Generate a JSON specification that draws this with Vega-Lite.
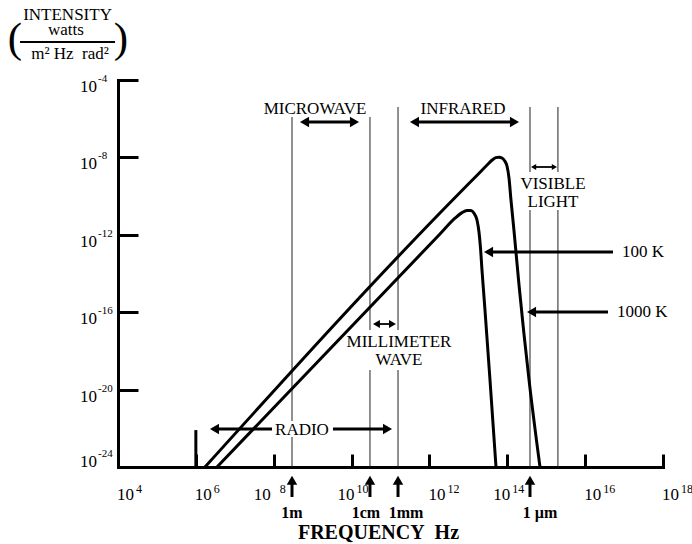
{
  "$schema": "https://vega.github.io/schema/vega-lite/v6.json",
  "width": 545,
  "height": 387,
  "autosize": {"type": "none"},
  "padding": {"left": 118, "top": 80, "right": 29, "bottom": 77},
  "background": "white",
  "config": {
    "view": {"stroke": null},
    "font": "Liberation Serif",
    "text": {"font": "Liberation Serif", "color": "black"},
    "axis": {
      "grid": false,
      "labels": false,
      "domainColor": "black",
      "domainWidth": 3,
      "domainCap": "square",
      "tickColor": "black",
      "tickWidth": 3,
      "tickCap": "butt"
    }
  },
  "datasets": {
    "curves": [
      {"T": "1000 K", "f": 1.718e6, "i": 1e-24},
      {"T": "1000 K", "f": 7.6e12, "i": 2.4e-10},
      {"T": "1000 K", "f": 1.68e13, "i": 1.2e-9},
      {"T": "1000 K", "f": 2.9e13, "i": 3.7e-9},
      {"T": "1000 K", "f": 4.1e13, "i": 7.3e-9},
      {"T": "1000 K", "f": 5.1e13, "i": 9.7e-9},
      {"T": "1000 K", "f": 6.1e13, "i": 1.03e-8},
      {"T": "1000 K", "f": 7.3e13, "i": 9.3e-9},
      {"T": "1000 K", "f": 8.6e13, "i": 6.6e-9},
      {"T": "1000 K", "f": 9.82e13, "i": 3.6e-9},
      {"T": "1000 K", "f": 1.107e14, "i": 8.61e-10},
      {"T": "1000 K", "f": 1.24e14, "i": 6.8e-11},
      {"T": "1000 K", "f": 1.48e14, "i": 1.8e-12},
      {"T": "1000 K", "f": 2.0e14, "i": 2.6e-15},
      {"T": "1000 K", "f": 3.6e14, "i": 3.5e-20},
      {"T": "1000 K", "f": 6.92e14, "i": 1e-24},
      {"T": "100 K", "f": 3.49e6, "i": 1e-24},
      {"T": "100 K", "f": 1.866e12, "i": 1.1e-12},
      {"T": "100 K", "f": 4.54e12, "i": 7.2e-12},
      {"T": "100 K", "f": 6.86e12, "i": 1.4e-11},
      {"T": "100 K", "f": 9.23e12, "i": 1.8e-11},
      {"T": "100 K", "f": 1.169e13, "i": 1.78e-11},
      {"T": "100 K", "f": 1.396e13, "i": 1.3e-11},
      {"T": "100 K", "f": 1.667e13, "i": 5.82e-12},
      {"T": "100 K", "f": 1.875e13, "i": 1.396e-12},
      {"T": "100 K", "f": 2.051e13, "i": 2.08e-13},
      {"T": "100 K", "f": 2.239e13, "i": 1.517e-14},
      {"T": "100 K", "f": 2.673e13, "i": 1.3e-16},
      {"T": "100 K", "f": 3.597e13, "i": 3.13e-20},
      {"T": "100 K", "f": 5.13e13, "i": 1e-24}
    ],
    "vlines": [
      {"f": 2.95e8, "i": 1.225e-6, "i2": 2.38e-22},
      {"f": 2.95e8, "i": 3.55e-23, "i2": 1e-24},
      {"f": 2.97e10, "i": 1.225e-6, "i2": 1.202e-17},
      {"f": 2.97e10, "i": 1.03e-19, "i2": 1e-24},
      {"f": 1.56e11, "i": 4.03e-6, "i2": 1.202e-17},
      {"f": 1.56e11, "i": 1.03e-19, "i2": 1e-24},
      {"f": 3.83e14, "i": 4.03e-6, "i2": 1.758e-9},
      {"f": 3.83e14, "i": 1.914e-11, "i2": 1e-24},
      {"f": 2.0e15, "i": 4.03e-6, "i2": 1.758e-9},
      {"f": 2.0e15, "i": 1.914e-11, "i2": 1e-24}
    ],
    "extraTick": [{"f": 1e6, "i": 1e-24, "i2": 8.1e-23}],
    "hshafts": [
      {"f": 6.18e8, "f2": 1.189e10, "i": 6.74e-7},
      {"f": 4.13e11, "f2": 1.531e14, "i": 6.74e-7},
      {"f": 3.01e6, "f2": 9.04e7, "i": 9.2e-23},
      {"f": 3.33e9, "f2": 8.38e10, "i": 9.2e-23},
      {"f": 3.3e13, "f2": 5.19e16, "i": 1.29e-13},
      {"f": 4.2e14, "f2": 3.86e16, "i": 1.023e-16}
    ],
    "hshaftsThin": [
      {"f": 4.74e14, "f2": 1.622e15, "i": 3.19e-9},
      {"f": 4.36e10, "f2": 1.125e11, "i": 2.45e-17}
    ],
    "vshafts": [
      {"f": 2.95e8, "i": 2.82e-26, "i2": 2.06e-25},
      {"f": 2.97e10, "i": 2.82e-26, "i2": 2.06e-25},
      {"f": 1.56e11, "i": 2.82e-26, "i2": 2.06e-25},
      {"f": 3.83e14, "i": 2.82e-26, "i2": 2.06e-25}
    ],
    "headsBig": [
      {"f": 6.18e8, "i": 6.74e-7, "dir": "left"},
      {"f": 1.189e10, "i": 6.74e-7, "dir": "right"},
      {"f": 4.13e11, "i": 6.74e-7, "dir": "left"},
      {"f": 1.531e14, "i": 6.74e-7, "dir": "right"},
      {"f": 3.01e6, "i": 9.2e-23, "dir": "left"},
      {"f": 8.38e10, "i": 9.2e-23, "dir": "right"},
      {"f": 3.3e13, "i": 1.29e-13, "dir": "left"},
      {"f": 4.2e14, "i": 1.023e-16, "dir": "left"},
      {"f": 2.95e8, "i": 2.06e-25, "dir": "up"},
      {"f": 2.97e10, "i": 2.06e-25, "dir": "up"},
      {"f": 1.56e11, "i": 2.06e-25, "dir": "up"},
      {"f": 3.83e14, "i": 2.06e-25, "dir": "up"}
    ],
    "headsVisible": [
      {"f": 4.74e14, "i": 3.19e-9, "dir": "left"},
      {"f": 1.622e15, "i": 3.19e-9, "dir": "right"}
    ],
    "headsMM": [
      {"f": 4.36e10, "i": 2.45e-17, "dir": "left"},
      {"f": 1.125e11, "i": 2.45e-17, "dir": "right"}
    ],
    "annoCenter": [
      {"f": 1.148e9, "i": 1.75e-6, "label": "MICROWAVE"},
      {"f": 7.28e12, "i": 1.75e-6, "label": "INFRARED"},
      {"f": 1.493e15, "i": 2.33e-10, "label": "VISIBLE"},
      {"f": 1.493e15, "i": 2.74e-11, "label": "LIGHT"},
      {"f": 1.652e11, "i": 1.59e-18, "label": "MILLIMETER"},
      {"f": 1.652e11, "i": 1.866e-19, "label": "WAVE"},
      {"f": 5.32e8, "i": 4.51e-23, "label": "RADIO"}
    ],
    "annoLeft": [
      {"f": 8.83e16, "i": 7.13e-14, "label": "100 K"},
      {"f": 6.58e16, "i": 5.65e-17, "label": "1000 K"}
    ],
    "wavelengths": [
      {"f": 2.95e8, "i": 2.31e-27, "label": "1m"},
      {"f": 2.34e10, "i": 2.31e-27, "label": "1cm"},
      {"f": 2.5e11, "i": 2.31e-27, "label": "1mm"},
      {"f": 6.92e14, "i": 2.31e-27, "label": "1\u00a0µm"}
    ],
    "titleText": [
      {"f": 505, "i": 0.126, "label": "INTENSITY"},
      {"f": 461, "i": 0.0212, "label": "watts"},
      {"f": 585, "i": 0.001216, "label": "m² Hz\u00a0\u00a0rad²"}
    ],
    "parens": [
      {"f": 22.6, "i": 0.00264, "label": "("},
      {"f": 11900, "i": 0.00264, "label": ")"}
    ],
    "fractionBar": [{"f": 30.4, "f2": 8380, "i": 0.0092}],
    "ylabels": [
      {"i": 1e-4, "e": "-4"},
      {"i": 1e-8, "e": "-8"},
      {"i": 1e-12, "e": "-12"},
      {"i": 1e-16, "e": "-16"},
      {"i": 1e-20, "e": "-20"}
    ],
    "ylabelsBottom": [
      {"i": 1e-24, "e": "-24"}
    ],
    "xlabels": [
      {"f": 1e4, "e": "4"},
      {"f": 1e6, "e": "6"},
      {"f": 1e12, "e": "12"},
      {"f": 1e16, "e": "16"},
      {"f": 1e18, "e": "18"}
    ],
    "xlabelsShifted": [
      {"f": 1e10, "e": "10"},
      {"f": 1e14, "e": "14"}
    ],
    "xlabelsShiftedMore": [
      {"f": 1e8, "e": "8"}
    ]
  },
  "layer": [
    {
      "data": {"name": "vlines"},
      "mark": {"type": "rule", "color": "#222222", "strokeWidth": 1},
      "encoding": {
        "x": {
          "field": "f", "type": "quantitative",
          "scale": {"type": "log", "domain": [1e4, 1e18], "nice": false},
          "axis": {
            "values": [1e6, 1e8, 1e10, 1e12, 1e14, 1e16, 1e18],
            "tickSize": -13,
            "title": "FREQUENCY\u00a0\u00a0Hz",
            "titleFont": "Liberation Serif",
            "titleFontSize": 20,
            "titleFontWeight": "bold",
            "titleColor": "black",
            "titleX": 260,
            "titleY": 71,
            "titleAlign": "center",
            "titleBaseline": "alphabetic"
          }
        },
        "y": {
          "field": "i", "type": "quantitative",
          "scale": {"type": "log", "domain": [1e-24, 1e-4], "nice": false},
          "axis": {"values": [1e-4, 1e-8, 1e-12, 1e-16, 1e-20], "tickSize": -20, "title": null}
        },
        "y2": {"field": "i2"}
      }
    },
    {
      "data": {"name": "extraTick"},
      "mark": {"type": "rule", "color": "black", "strokeWidth": 3},
      "encoding": {
        "x": {"field": "f", "type": "quantitative"},
        "y": {"field": "i", "type": "quantitative"},
        "y2": {"field": "i2"}
      }
    },
    {
      "data": {"name": "curves"},
      "mark": {"type": "line", "color": "black", "strokeWidth": 3, "interpolate": "monotone"},
      "encoding": {
        "x": {"field": "f", "type": "quantitative"},
        "y": {"field": "i", "type": "quantitative"},
        "detail": {"field": "T", "type": "nominal"}
      }
    },
    {
      "data": {"name": "hshafts"},
      "mark": {"type": "rule", "color": "black", "strokeWidth": 3},
      "encoding": {
        "x": {"field": "f", "type": "quantitative"},
        "x2": {"field": "f2"},
        "y": {"field": "i", "type": "quantitative"}
      }
    },
    {
      "data": {"name": "hshaftsThin"},
      "mark": {"type": "rule", "color": "black", "strokeWidth": 1.8},
      "encoding": {
        "x": {"field": "f", "type": "quantitative"},
        "x2": {"field": "f2"},
        "y": {"field": "i", "type": "quantitative"}
      }
    },
    {
      "data": {"name": "vshafts"},
      "mark": {"type": "rule", "color": "black", "strokeWidth": 3},
      "encoding": {
        "x": {"field": "f", "type": "quantitative"},
        "y": {"field": "i", "type": "quantitative"},
        "y2": {"field": "i2"}
      }
    },
    {
      "data": {"name": "headsBig"},
      "mark": {"type": "point", "filled": true, "color": "black", "opacity": 1, "size": 110},
      "encoding": {
        "x": {"field": "f", "type": "quantitative"},
        "y": {"field": "i", "type": "quantitative"},
        "shape": {"field": "dir", "type": "nominal", "scale": {"domain": ["left", "right", "up"], "range": ["triangle-left", "triangle-right", "triangle-up"]}, "legend": null}
      }
    },
    {
      "data": {"name": "headsVisible"},
      "mark": {"type": "point", "filled": true, "color": "black", "opacity": 1, "size": 36},
      "encoding": {
        "x": {"field": "f", "type": "quantitative"},
        "y": {"field": "i", "type": "quantitative"},
        "shape": {"field": "dir", "type": "nominal", "legend": null}
      }
    },
    {
      "data": {"name": "headsMM"},
      "mark": {"type": "point", "filled": true, "color": "black", "opacity": 1, "size": 64},
      "encoding": {
        "x": {"field": "f", "type": "quantitative"},
        "y": {"field": "i", "type": "quantitative"},
        "shape": {"field": "dir", "type": "nominal", "legend": null}
      }
    },
    {
      "data": {"name": "annoCenter"},
      "mark": {"type": "text", "fontSize": 17, "align": "center", "baseline": "alphabetic"},
      "encoding": {
        "x": {"field": "f", "type": "quantitative"},
        "y": {"field": "i", "type": "quantitative"},
        "text": {"field": "label"}
      }
    },
    {
      "data": {"name": "annoLeft"},
      "mark": {"type": "text", "fontSize": 17, "align": "left", "baseline": "alphabetic"},
      "encoding": {
        "x": {"field": "f", "type": "quantitative"},
        "y": {"field": "i", "type": "quantitative"},
        "text": {"field": "label"}
      }
    },
    {
      "data": {"name": "wavelengths"},
      "mark": {"type": "text", "fontSize": 16, "fontWeight": "bold", "align": "center", "baseline": "alphabetic"},
      "encoding": {
        "x": {"field": "f", "type": "quantitative"},
        "y": {"field": "i", "type": "quantitative"},
        "text": {"field": "label"}
      }
    },
    {
      "data": {"name": "titleText"},
      "mark": {"type": "text", "fontSize": 17, "align": "center", "baseline": "alphabetic"},
      "encoding": {
        "x": {"field": "f", "type": "quantitative"},
        "y": {"field": "i", "type": "quantitative"},
        "text": {"field": "label"}
      }
    },
    {
      "data": {"name": "parens"},
      "mark": {"type": "text", "fontSize": 43, "align": "center", "baseline": "alphabetic"},
      "encoding": {
        "x": {"field": "f", "type": "quantitative"},
        "y": {"field": "i", "type": "quantitative"},
        "text": {"field": "label"}
      }
    },
    {
      "data": {"name": "fractionBar"},
      "mark": {"type": "rule", "color": "black", "strokeWidth": 2},
      "encoding": {
        "x": {"field": "f", "type": "quantitative"},
        "x2": {"field": "f2"},
        "y": {"field": "i", "type": "quantitative"}
      }
    },
    {
      "data": {"name": "ylabels"},
      "mark": {"type": "text", "fontSize": 17, "align": "right", "baseline": "alphabetic", "dy": 12},
      "encoding": {
        "x": {"datum": 2891, "type": "quantitative"},
        "y": {"field": "i", "type": "quantitative"},
        "text": {"value": "10"}
      }
    },
    {
      "data": {"name": "ylabels"},
      "mark": {"type": "text", "fontSize": 11, "align": "left", "baseline": "alphabetic", "dx": 1, "dy": 2},
      "encoding": {
        "x": {"datum": 2891, "type": "quantitative"},
        "y": {"field": "i", "type": "quantitative"},
        "text": {"field": "e"}
      }
    },
    {
      "data": {"name": "ylabelsBottom"},
      "mark": {"type": "text", "fontSize": 17, "align": "right", "baseline": "alphabetic", "dy": 0},
      "encoding": {
        "x": {"datum": 2891, "type": "quantitative"},
        "y": {"field": "i", "type": "quantitative"},
        "text": {"value": "10"}
      }
    },
    {
      "data": {"name": "ylabelsBottom"},
      "mark": {"type": "text", "fontSize": 11, "align": "left", "baseline": "alphabetic", "dx": 1, "dy": -10},
      "encoding": {
        "x": {"datum": 2891, "type": "quantitative"},
        "y": {"field": "i", "type": "quantitative"},
        "text": {"field": "e"}
      }
    },
    {
      "data": {"name": "xlabels"},
      "mark": {"type": "text", "fontSize": 17, "align": "left", "baseline": "alphabetic", "dx": -1},
      "encoding": {
        "x": {"field": "f", "type": "quantitative"},
        "y": {"datum": 1.972e-26, "type": "quantitative"},
        "text": {"value": "10"}
      }
    },
    {
      "data": {"name": "xlabels"},
      "mark": {"type": "text", "fontSize": 12, "align": "left", "baseline": "alphabetic", "dx": 18, "dy": -7},
      "encoding": {
        "x": {"field": "f", "type": "quantitative"},
        "y": {"datum": 1.972e-26, "type": "quantitative"},
        "text": {"field": "e"}
      }
    },
    {
      "data": {"name": "xlabelsShifted"},
      "mark": {"type": "text", "fontSize": 17, "align": "left", "baseline": "alphabetic", "dx": -14},
      "encoding": {
        "x": {"field": "f", "type": "quantitative"},
        "y": {"datum": 1.972e-26, "type": "quantitative"},
        "text": {"value": "10"}
      }
    },
    {
      "data": {"name": "xlabelsShifted"},
      "mark": {"type": "text", "fontSize": 12, "align": "left", "baseline": "alphabetic", "dx": 5, "dy": -7},
      "encoding": {
        "x": {"field": "f", "type": "quantitative"},
        "y": {"datum": 1.972e-26, "type": "quantitative"},
        "text": {"field": "e"}
      }
    },
    {
      "data": {"name": "xlabelsShiftedMore"},
      "mark": {"type": "text", "fontSize": 17, "align": "left", "baseline": "alphabetic", "dx": -20},
      "encoding": {
        "x": {"field": "f", "type": "quantitative"},
        "y": {"datum": 1.972e-26, "type": "quantitative"},
        "text": {"value": "10"}
      }
    },
    {
      "data": {"name": "xlabelsShiftedMore"},
      "mark": {"type": "text", "fontSize": 12, "align": "left", "baseline": "alphabetic", "dx": 6, "dy": -7},
      "encoding": {
        "x": {"field": "f", "type": "quantitative"},
        "y": {"datum": 1.972e-26, "type": "quantitative"},
        "text": {"field": "e"}
      }
    }
  ]
}
